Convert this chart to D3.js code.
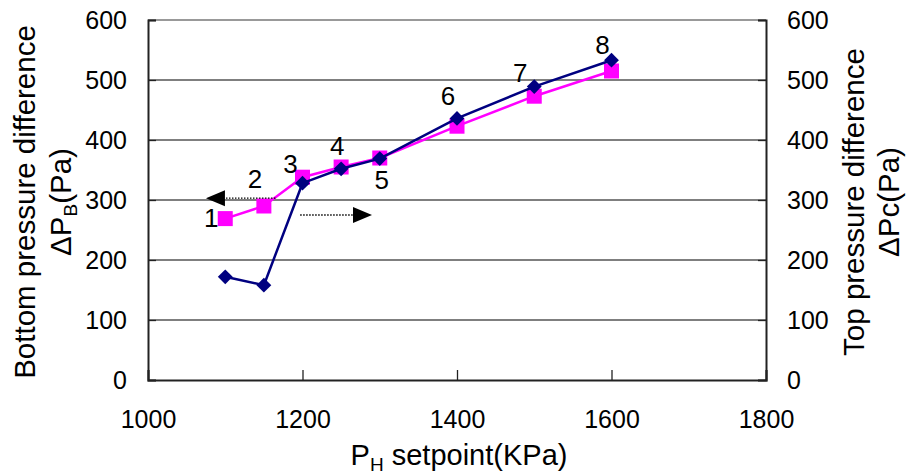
<!DOCTYPE html>
<html>
<head>
<meta charset="utf-8">
<script src="https://cdn.jsdelivr.net/npm/d3@7"></script>
<style>
  body { margin: 0; background: #fff; }
  text { font-family: "Liberation Sans", Arial, sans-serif; fill: #000; }
</style>
</head>
<body>
<svg id="chart" width="906" height="476"></svg>
<script>
// P_H setpoint (KPa)
var setpoints = [ 1100, 1150, 1200, 1250, 1300, 1400, 1500, 1600 ];
// bottom pressure difference, left axis (magenta squares)
var bottomDiff = [ 269, 290, 338, 355, 370, 423, 473, 515 ];
// top pressure difference, right axis (navy diamonds)
var topDiff = [ 172, 158, 328, 352, 369, 436, 489, 533 ];
var pointLabels = [ '1', '2', '3', '4', '5', '6', '7', '8' ];

var xTicks = [ 1000, 1200, 1400, 1600, 1800 ];
var yTicks = [ 0, 100, 200, 300, 400, 500, 600 ];

// arrows telling which axis each series belongs to: [ from, to, level ]
var leftArrow = [ 1165, 1075, 303 ];
var rightArrow = [ 1197, 1290, 275 ];

var svg = d3.select( '#chart' ),
    margin = { top: 20, right: 140, bottom: 96, left: 148 },
    width = 906 - margin.left - margin.right,
    height = 476 - margin.top - margin.bottom;

var x = d3.scaleLinear().domain( [ 1000, 1800 ] ).range( [ 0, width ] ),
    yL = d3.scaleLinear().domain( [ 0, 600 ] ).range( [ height, 0 ] ),
    yR = d3.scaleLinear().domain( [ 0, 600 ] ).range( [ height, 0 ] );

var g = svg.append( 'g' ).attr( 'transform', 'translate(' + margin.left + ',' + margin.top + ')' );

// grid
g.selectAll( 'line.grid' )
    .data( yTicks.filter( function( d ) { return d > 0 && d < 600; } ) )
    .enter().append( 'line' )
    .attr( 'class', 'grid' )
    .attr( 'x1', 0 ).attr( 'x2', width )
    .attr( 'y1', function( d ) { return yL( d ); } )
    .attr( 'y2', function( d ) { return yL( d ); } )
    .attr( 'stroke', '#000' ).attr( 'stroke-width', 1.2 );

// top border (grey)
g.append( 'line' )
    .attr( 'x1', 0 ).attr( 'x2', width )
    .attr( 'y1', yL( 600 ) ).attr( 'y2', yL( 600 ) )
    .attr( 'stroke', '#999' ).attr( 'stroke-width', 2 );

// axes
var fmt = d3.format( 'd' ),
    axisLeft = d3.axisLeft( yL ).tickValues( yTicks ).tickFormat( fmt ).tickSize( -8 ),
    axisRight = d3.axisRight( yR ).tickValues( yTicks ).tickFormat( fmt ).tickSize( -8 ),
    axisBottom = d3.axisBottom( x ).tickValues( xTicks ).tickFormat( fmt ).tickSize( -10 );

function styleAxis( sel ) {
    sel.select( '.domain' ).attr( 'stroke', '#222' ).attr( 'stroke-width', 2 );
    sel.selectAll( '.tick line' ).attr( 'stroke', '#222' ).attr( 'stroke-width', 1.3 );
    sel.selectAll( '.tick text' )
        .style( 'font-family', '"Liberation Sans", Arial, sans-serif' )
        .style( 'font-size', '25px' )
        .attr( 'fill', '#000' );
}

g.append( 'g' ).attr( 'transform', 'translate(0,' + height + ')' )
    .call( axisBottom ).call( styleAxis )
    .selectAll( '.tick text' ).attr( 'y', 48 ).attr( 'dy', 0 );
g.append( 'g' ).call( axisLeft ).call( styleAxis )
    .selectAll( '.tick text' ).attr( 'x', -21 ).attr( 'dy', '0.35em' );
g.append( 'g' ).attr( 'transform', 'translate(' + width + ',0)' )
    .call( axisRight ).call( styleAxis )
    .selectAll( '.tick text' ).attr( 'x', 21 ).attr( 'dy', '0.35em' );

// series
var lineB = d3.line()
    .x( function( d, i ) { return x( setpoints[ i ] ); } )
    .y( function( d ) { return yL( d ); } );
var lineT = d3.line()
    .x( function( d, i ) { return x( setpoints[ i ] ); } )
    .y( function( d ) { return yR( d ); } );

g.append( 'path' ).datum( bottomDiff )
    .attr( 'd', lineB ).attr( 'fill', 'none' )
    .attr( 'stroke', '#ff00ff' ).attr( 'stroke-width', 2.5 );

g.selectAll( 'rect.sq' ).data( bottomDiff ).enter().append( 'rect' )
    .attr( 'class', 'sq' )
    .attr( 'x', function( d, i ) { return x( setpoints[ i ] ) - 7.5; } )
    .attr( 'y', function( d ) { return yL( d ) - 7.5; } )
    .attr( 'width', 15 ).attr( 'height', 15 )
    .attr( 'fill', '#ff00ff' );

g.append( 'path' ).datum( topDiff )
    .attr( 'd', lineT ).attr( 'fill', 'none' )
    .attr( 'stroke', '#000080' ).attr( 'stroke-width', 2.5 );

var diamond = d3.symbol().type( d3.symbolSquare ).size( 110 );
g.selectAll( 'path.dm' ).data( topDiff ).enter().append( 'path' )
    .attr( 'class', 'dm' )
    .attr( 'd', diamond )
    .attr( 'transform', function( d, i ) {
        return 'translate(' + x( setpoints[ i ] ) + ',' + yR( d ) + ') rotate(45)';
    } )
    .attr( 'fill', '#000080' );

// point numbers, nudged off the markers
var labelNudge = [ [ -14, 8 ], [ -9, -18 ], [ -12, -4 ], [ -4, -12 ], [ 2, 31 ], [ -9, -13 ], [ -14, -5 ], [ -9, -6 ] ];
g.selectAll( 'text.num' ).data( pointLabels ).enter().append( 'text' )
    .attr( 'class', 'num' )
    .attr( 'x', function( d, i ) { return x( setpoints[ i ] ) + labelNudge[ i ][ 0 ]; } )
    .attr( 'y', function( d, i ) {
        var yy = i < 5 ? yL( bottomDiff[ i ] ) : yR( topDiff[ i ] );
        return yy + labelNudge[ i ][ 1 ];
    } )
    .attr( 'text-anchor', 'middle' )
    .style( 'font-size', '26px' )
    .text( function( d ) { return d; } );

// arrows
function arrow( a ) {
    var x0 = x( a[ 0 ] ), x1 = x( a[ 1 ] ), yy = yL( a[ 2 ] ),
        dir = x1 > x0 ? 1 : -1,
        base = x1 - dir * 19;
    g.append( 'line' )
        .attr( 'x1', x0 ).attr( 'x2', base )
        .attr( 'y1', yy ).attr( 'y2', yy )
        .attr( 'stroke', '#000' ).attr( 'stroke-width', 1.3 )
        .attr( 'stroke-dasharray', '1.5,1.5' );
    g.append( 'path' )
        .attr( 'd', 'M' + x1 + ',' + yy + 'L' + base + ',' + ( yy - 8 ) + 'L' + base + ',' + ( yy + 8 ) + 'Z' )
        .attr( 'fill', '#000' );
}
arrow( leftArrow );
arrow( rightArrow );

// axis titles
var xt = svg.append( 'text' )
    .attr( 'x', 459 ).attr( 'y', 465 )
    .attr( 'text-anchor', 'middle' )
    .style( 'font-size', '29px' );
xt.append( 'tspan' ).text( 'P' );
xt.append( 'tspan' ).attr( 'dy', 6 ).style( 'font-size', '19px' ).text( 'H' );
xt.append( 'tspan' ).attr( 'dy', -6 ).text( ' setpoint(KPa)' );

function yTitle( cx1, cx2, cy, line1, sub, rest ) {
    svg.append( 'text' )
        .attr( 'transform', 'translate(' + cx1 + ',' + cy + ') rotate(-90)' )
        .attr( 'text-anchor', 'middle' )
        .style( 'font-size', '29.5px' )
        .text( line1 );
    var t = svg.append( 'text' )
        .attr( 'transform', 'translate(' + cx2 + ',' + cy + ') rotate(-90)' )
        .attr( 'text-anchor', 'middle' )
        .style( 'font-size', '29.5px' );
    t.append( 'tspan' ).text( '\u0394P' );
    if( sub ) {
        t.append( 'tspan' ).attr( 'dy', 6 ).style( 'font-size', '19px' ).text( sub );
        t.append( 'tspan' ).attr( 'dy', -6 ).text( rest );
    } else {
        t.append( 'tspan' ).text( rest );
    }
}
yTitle( 35, 71, 202, 'Bottom pressure difference', 'B', '(Pa)' );
yTitle( 864, 899, 202, 'Top pressure difference', null, 'c(Pa)' );
</script>
</body>
</html>
